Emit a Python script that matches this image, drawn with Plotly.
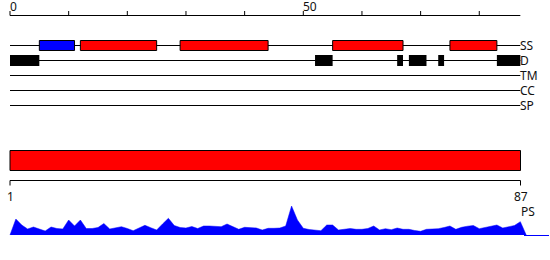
import plotly.graph_objects as go

# ---------------- data ----------------
seq_len = 87
track_names = ["SS", "D", "TM", "CC", "SP"]

ss_start = [5, 12, 29, 55, 75]
ss_end = [11, 25, 44, 67, 83]
ss_kind = ["strand", "helix", "helix", "helix", "helix"]

dis_start = [0, 52, 66, 68, 73, 83]
dis_end = [5, 55, 67, 71, 74, 87]

top_ticks = [0, 10, 20, 30, 40, 50, 60, 70, 80]
top_labels = ["0", "", "", "", "", "50", "", "", ""]

domain_start = 1
domain_end = 87
bottom_labels = ["1", "87"]
profile_label = "PS"

ps_pos = list(range(1, 88))
ps_vals = [16, 10, 6, 8, 6, 4, 8, 6.5, 6, 15,
           9, 15, 6.5, 6.5, 7.5, 11.5, 6, 7.5, 8.3, 6.5,
           4.3, 7, 9.7, 7.3, 5, 11, 16.7, 9.5, 7.5, 7,
           8.5, 6.5, 9, 9, 9, 8.3, 11, 8, 5.7, 7.7,
           7.5, 7, 5, 6.7, 6.7, 7, 9, 29, 15, 6.7,
           5.5, 5, 4.3, 10, 10, 5, 6, 6.5, 5.7, 5.7,
           6.5, 9, 5, 6.3, 5.3, 7, 5.7, 5.7, 4.5, 3.7,
           5.7, 5.8, 6.3, 7.5, 9, 5.7, 7.7, 8.8, 9.5, 6.3,
           7.5, 9, 10, 7, 8.5, 9.5, 13.3]

# ---------------- layout constants (pixels) ----------------
W, H = 550, 260
X0PX = 10.0
SCALE_TOP = 5.866
SCALE_BOT = 510.5 / 86
track_y0 = 45.5
track_dy = 15
box_half = 5
axis_top_y = 15.5
bar_top, bar_bot = 150.5, 170.5
axis_bot_y = 180.5
base_px = 235
font = dict(family="Noto Sans", size=12, color="#111")
BLUE = "#0000ff"
RED = "#ff0000"

fig = go.Figure()

# profile area
fig.add_trace(go.Scatter(
    x=[0] + ps_pos + [seq_len + 1],
    y=[0] + ps_vals + [0],
    mode="lines", fill="tozeroy", fillcolor=BLUE,
    line=dict(color=BLUE, width=0.5),
    xaxis="x", yaxis="y2", hoverinfo="skip", showlegend=False))

shapes = []
annotations = []

# top ruler
shapes.append(dict(type="line", xref="x", yref="y", x0=0, x1=seq_len,
                   y0=axis_top_y, y1=axis_top_y, line=dict(color="black", width=1)))
for t, lab in zip(top_ticks, top_labels):
    shapes.append(dict(type="line", xref="x", yref="y", x0=t, x1=t,
                       y0=axis_top_y - 4.5, y1=axis_top_y, line=dict(color="black", width=1)))
    if lab:
        annotations.append(dict(x=t, y=6, xref="x", yref="y", text=lab, showarrow=False,
                                xanchor="left", yanchor="middle", xshift=-1, font=font,
                                borderpad=0))

# track lines and labels
for k, name in enumerate(track_names):
    yy = track_y0 + k * track_dy
    shapes.append(dict(type="line", xref="x", yref="y", x0=0, x1=seq_len,
                       y0=yy, y1=yy, line=dict(color="black", width=1)))
    annotations.append(dict(x=seq_len, y=yy, xref="x", yref="y", text=name, showarrow=False,
                            xanchor="left", yanchor="middle", xshift=-1, font=font,
                            borderpad=0))

# secondary structure boxes
for s, e, kind in zip(ss_start, ss_end, ss_kind):
    shapes.append(dict(type="rect", xref="x", yref="y", x0=s, x1=e,
                       y0=track_y0 - box_half, y1=track_y0 + box_half,
                       fillcolor=BLUE if kind == "strand" else RED,
                       line=dict(color="black", width=1)))

# disorder boxes
yd = track_y0 + track_dy
for s, e in zip(dis_start, dis_end):
    shapes.append(dict(type="rect", xref="x", yref="y", x0=s, x1=e,
                       y0=yd - box_half - 0.5, y1=yd + box_half + 0.5,
                       fillcolor="black", line=dict(width=0)))

# domain bar
shapes.append(dict(type="rect", xref="x2", yref="y", x0=domain_start, x1=domain_end,
                   y0=bar_top, y1=bar_bot, fillcolor=RED, line=dict(color="black", width=1)))

# bottom ruler
shapes.append(dict(type="line", xref="x2", yref="y", x0=domain_start, x1=domain_end,
                   y0=axis_bot_y, y1=axis_bot_y, line=dict(color="black", width=1)))
for pos, lab in zip([domain_start, domain_end], bottom_labels):
    shapes.append(dict(type="line", xref="x2", yref="y", x0=pos, x1=pos,
                       y0=axis_bot_y, y1=axis_bot_y + 5, line=dict(color="black", width=1)))
    annotations.append(dict(x=pos, y=196, xref="x2", yref="y", text=lab, showarrow=False,
                            xanchor="center", yanchor="middle", font=font, borderpad=0))
annotations.append(dict(x=domain_end, y=211, xref="x2", yref="y", text=profile_label,
                        showarrow=False, xanchor="left", yanchor="middle", xshift=-1,
                        font=font, borderpad=0))

# baseline continuation of profile
shapes.append(dict(type="line", xref="paper", yref="y", x0=524 / W, x1=549 / W,
                   y0=base_px + 0.5, y1=base_px + 0.5, line=dict(color=BLUE, width=1)))

fig.update_layout(
    width=W, height=H, margin=dict(l=0, r=0, t=0, b=0),
    paper_bgcolor="white", plot_bgcolor="white",
    xaxis=dict(range=[-X0PX / SCALE_TOP, (W - X0PX) / SCALE_TOP], visible=False,
               domain=[0, 1], anchor="y"),
    xaxis2=dict(range=[domain_start - X0PX / SCALE_BOT, domain_start + (W - X0PX) / SCALE_BOT],
                visible=False, overlaying="x", anchor="y"),
    yaxis=dict(range=[H, 0], visible=False, domain=[0, 1]),
    yaxis2=dict(range=[0, 30], visible=False,
                domain=[(H - base_px) / H, (H - base_px + 30) / H], anchor="x"),
    shapes=shapes, annotations=annotations, showlegend=False,
)

fig.write_html("out.html")
